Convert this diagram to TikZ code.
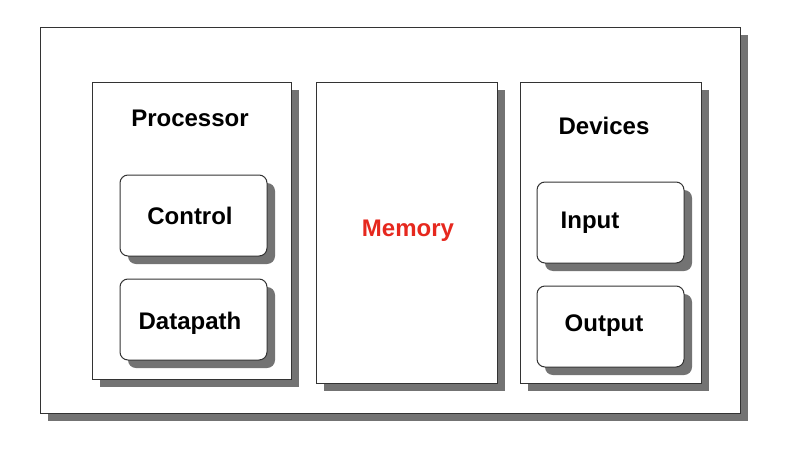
\documentclass[tikz,border=0pt]{standalone}
\usepackage{fontspec}
\setmainfont{Liberation Sans}
\usetikzlibrary{shadows}
\begin{document}
\begin{tikzpicture}[x=1pt,y=-1pt,
 box/.style={draw=black!80,line width=1pt,fill=white,drop shadow={shadow xshift=8pt,shadow yshift=-8pt,fill=black!55,opacity=1}},
 rbox/.style={box,rounded corners=8pt},
 lbl/.style={font=\bfseries\fontsize{24}{28}\selectfont,inner sep=0pt}]
\useasboundingbox (0,0) rectangle (800,463);
\fill[white] (0,0) rectangle (800,463);
\node[box,minimum width=700pt,minimum height=386pt] (outer) at (390,220) {};
\node[box,minimum width=199pt,minimum height=297pt] (proc) at (191.5,230.5) {};
\node[box,minimum width=181pt,minimum height=301pt] (mem) at (406.5,232.5) {};
\node[box,minimum width=181pt,minimum height=301pt] (dev) at (610.5,232.5) {};
\node[rbox,minimum width=147pt,minimum height=81pt] (ctrl) at (193.5,215.5) {};
\node[rbox,minimum width=147pt,minimum height=81pt] (dp) at (193.5,319.5) {};
\node[rbox,minimum width=147pt,minimum height=81pt] (in) at (610.5,222.5) {};
\node[rbox,minimum width=147pt,minimum height=81pt] (out) at (610.5,326.5) {};
\node[lbl] (tp) at (190,118) {Processor};
\node[lbl] (td) at (604,126) {Devices};
\node[lbl,text={rgb,255:red,230;green,40;blue,30}] (tm) at (408,231) {Memory};
\node[lbl] (tc) at (190,216) {Control};
\node[lbl] (tdp) at (190,323) {Datapath};
\node[lbl] (ti) at (590,223) {Input};
\node[lbl] (to) at (604,326) {Output};
\end{tikzpicture}
\end{document}
